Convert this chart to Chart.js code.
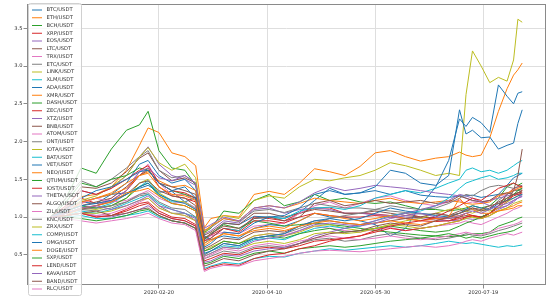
<!DOCTYPE html>
<html>
<head>
<meta charset="utf-8">
<script src="https://cdn.jsdelivr.net/npm/chart.js@4.4.0/dist/chart.umd.min.js"></script>
<style>
  html, body { margin: 0; padding: 0; background: #fff; }
  canvas { display: block; }
</style>
</head>
<body>
<canvas id="pairsChart" width="554" height="303"></canvas>
<script>
// days since 2020-01-01, prices normalised to the first close
const days = [0, 7, 14, 21, 28, 35, 41, 45, 50, 56, 62, 67, 71, 74, 80, 87, 94, 101, 108, 115, 122, 129, 136, 143, 150, 157, 164, 171, 178, 184, 189, 192, 195, 199, 203, 207, 211, 214, 216, 218];
const tickDays = [50, 100, 150, 200];
const tickLabels = ['2020-02-20', '2020-04-10', '2020-05-30', '2020-07-19'];
const yTicks = [0.5, 1.0, 1.5, 2.0, 2.5, 3.0, 3.5];

const pairs = ['BTC/USDT', 'ETH/USDT', 'BCH/USDT', 'XRP/USDT', 'EOS/USDT', 'LTC/USDT', 'TRX/USDT', 'ETC/USDT', 'LINK/USDT', 'XLM/USDT',
  'ADA/USDT', 'XMR/USDT', 'DASH/USDT', 'ZEC/USDT', 'XTZ/USDT', 'BNB/USDT', 'ATOM/USDT', 'ONT/USDT', 'IOTA/USDT', 'BAT/USDT',
  'VET/USDT', 'NEO/USDT', 'QTUM/USDT', 'IOST/USDT', 'THETA/USDT', 'ALGO/USDT', 'ZIL/USDT', 'KNC/USDT', 'ZRX/USDT', 'COMP/USDT',
  'OMG/USDT', 'DOGE/USDT', 'SXP/USDT', 'LEND/USDT', 'KAVA/USDT', 'BAND/USDT', 'RLC/USDT'];

const btc = [1.00, 1.12, 1.20, 1.18, 1.30, 1.32, 1.38, 1.42, 1.33, 1.34, 1.20, 1.26, 0.68, 0.76, 0.92, 0.90, 1.01, 1.00, 0.98, 1.06, 1.22, 1.38, 1.30, 1.32, 1.35, 1.30, 1.35, 1.29, 1.27, 1.26, 1.28, 1.28, 1.29, 1.26, 1.28, 1.30, 1.42, 1.52, 1.55, 1.58];
const eth = [1.00, 1.10, 1.27, 1.30, 1.40, 1.62, 1.95, 2.18, 2.12, 1.85, 1.80, 1.68, 0.86, 0.98, 1.02, 1.00, 1.30, 1.34, 1.30, 1.45, 1.64, 1.60, 1.55, 1.67, 1.85, 1.88, 1.80, 1.74, 1.78, 1.80, 1.86, 1.82, 1.80, 1.82, 2.05, 2.40, 2.70, 2.88, 2.95, 3.04];
const bch = [1.00, 1.25, 1.65, 1.58, 1.90, 2.15, 2.22, 2.40, 1.88, 1.65, 1.62, 1.42, 0.80, 0.85, 1.08, 1.05, 1.22, 1.30, 1.15, 1.20, 1.30, 1.22, 1.25, 1.20, 1.18, 1.20, 1.15, 1.10, 1.10, 1.08, 1.10, 1.12, 1.15, 1.12, 1.15, 1.25, 1.40, 1.45, 1.42, 1.45];
const xrp = [1.00, 1.12, 1.25, 1.18, 1.22, 1.35, 1.55, 1.65, 1.40, 1.28, 1.25, 1.20, 0.72, 0.76, 0.85, 0.82, 1.00, 0.98, 0.95, 1.05, 1.12, 1.12, 1.05, 1.05, 1.04, 1.02, 1.05, 1.00, 0.98, 0.95, 1.00, 1.05, 1.02, 1.00, 1.05, 1.15, 1.30, 1.38, 1.40, 1.40];
const eos = [1.00, 1.15, 1.35, 1.30, 1.38, 1.55, 1.80, 1.93, 1.70, 1.55, 1.50, 1.42, 0.78, 0.82, 0.95, 0.92, 1.10, 1.12, 1.05, 1.10, 1.12, 1.10, 1.05, 1.05, 1.03, 1.02, 1.00, 0.98, 0.96, 0.95, 0.96, 0.98, 0.97, 0.98, 1.02, 1.10, 1.15, 1.22, 1.25, 1.27];
const ltc = [1.00, 1.12, 1.40, 1.38, 1.45, 1.60, 1.78, 1.85, 1.62, 1.48, 1.52, 1.45, 0.76, 0.80, 0.92, 0.90, 1.05, 1.05, 1.00, 1.05, 1.10, 1.08, 1.05, 1.05, 1.08, 1.05, 1.02, 1.00, 0.99, 0.98, 1.00, 1.02, 1.01, 1.00, 1.05, 1.15, 1.30, 1.35, 1.36, 1.38];
const trx = [1.00, 1.05, 1.12, 1.15, 1.25, 1.40, 1.60, 1.70, 1.45, 1.30, 1.30, 1.22, 0.70, 0.75, 0.80, 0.78, 0.88, 0.90, 0.92, 1.05, 1.15, 1.20, 1.12, 1.18, 1.25, 1.28, 1.22, 1.18, 1.15, 1.20, 1.22, 1.18, 1.20, 1.18, 1.22, 1.28, 1.30, 1.35, 1.40, 1.42];
const etc = [1.00, 1.25, 1.48, 1.40, 1.50, 1.65, 1.80, 1.88, 1.62, 1.52, 1.55, 1.45, 0.82, 0.86, 0.98, 0.94, 1.08, 1.10, 1.06, 1.12, 1.18, 1.15, 1.12, 1.12, 1.10, 1.08, 1.06, 1.04, 1.04, 1.02, 1.05, 1.08, 1.10, 1.08, 1.10, 1.22, 1.30, 1.35, 1.35, 1.36];
const link = [1.00, 1.08, 1.22, 1.28, 1.40, 1.55, 1.80, 1.92, 1.72, 1.62, 1.70, 1.52, 0.78, 0.88, 1.02, 0.98, 1.22, 1.28, 1.25, 1.40, 1.50, 1.48, 1.52, 1.55, 1.62, 1.72, 1.68, 1.62, 1.55, 1.58, 1.55, 2.62, 3.20, 3.00, 2.78, 2.85, 2.80, 3.08, 3.62, 3.58];
const xlm = [1.00, 1.08, 1.15, 1.12, 1.18, 1.30, 1.40, 1.48, 1.30, 1.20, 1.20, 1.12, 0.65, 0.72, 0.85, 0.82, 0.98, 1.00, 0.98, 1.08, 1.12, 1.13, 1.10, 1.15, 1.25, 1.30, 1.35, 1.32, 1.38, 1.45, 1.50, 1.62, 1.65, 1.60, 1.62, 1.58, 1.62, 1.68, 1.72, 1.75];
const ada = [1.00, 1.05, 1.20, 1.25, 1.30, 1.45, 1.70, 1.75, 1.55, 1.45, 1.50, 1.35, 0.75, 0.70, 0.75, 0.72, 0.85, 0.90, 0.88, 0.95, 1.05, 1.00, 1.00, 0.95, 0.90, 0.75, 0.85, 1.15, 1.40, 1.75, 2.30, 2.20, 2.32, 2.25, 2.12, 2.75, 2.60, 2.50, 2.64, 2.66];
const xmr = [1.00, 1.05, 1.18, 1.25, 1.32, 1.45, 1.55, 1.60, 1.48, 1.40, 1.42, 1.35, 0.82, 0.88, 0.98, 0.95, 1.12, 1.15, 1.12, 1.18, 1.25, 1.22, 1.20, 1.18, 1.22, 1.25, 1.20, 1.18, 1.20, 1.22, 1.20, 1.18, 1.17, 1.18, 1.20, 1.28, 1.32, 1.35, 1.38, 1.40];
const dash = [1.00, 1.20, 1.45, 1.40, 1.50, 1.55, 1.65, 1.62, 1.45, 1.35, 1.30, 1.25, 0.70, 0.78, 0.90, 0.85, 0.95, 0.92, 0.88, 0.90, 0.92, 0.90, 0.88, 0.85, 0.82, 0.80, 0.78, 0.76, 0.75, 0.74, 0.75, 0.76, 0.78, 0.78, 0.80, 0.88, 0.92, 0.95, 0.98, 1.00];
const zec = [1.00, 1.15, 1.35, 1.30, 1.38, 1.50, 1.62, 1.68, 1.45, 1.35, 1.32, 1.25, 0.68, 0.72, 0.85, 0.80, 0.95, 0.95, 0.92, 1.00, 1.05, 1.02, 1.00, 1.00, 1.02, 1.00, 0.98, 0.95, 0.94, 0.95, 0.98, 1.00, 1.02, 1.00, 1.05, 1.12, 1.20, 1.30, 1.32, 1.35];
const xtz = [1.00, 1.05, 1.12, 1.15, 1.22, 1.35, 1.60, 1.65, 1.52, 1.48, 1.55, 1.45, 0.85, 0.90, 1.00, 0.95, 1.12, 1.15, 1.12, 1.20, 1.32, 1.40, 1.35, 1.38, 1.42, 1.40, 1.38, 1.35, 1.32, 1.30, 1.28, 1.25, 1.22, 1.20, 1.22, 1.25, 1.28, 1.30, 1.30, 1.30];
const bnb = [1.00, 1.08, 1.15, 1.20, 1.25, 1.40, 1.55, 1.62, 1.45, 1.40, 1.35, 1.30, 0.72, 0.78, 0.88, 0.85, 0.98, 1.00, 0.95, 1.00, 1.18, 1.22, 1.15, 1.18, 1.22, 1.18, 1.20, 1.22, 1.18, 1.20, 1.28, 1.25, 1.22, 1.20, 1.22, 1.30, 1.32, 1.30, 1.32, 1.33];
const atom = [1.00, 1.10, 1.18, 1.25, 1.20, 1.22, 1.30, 1.35, 1.25, 1.18, 1.20, 1.12, 0.55, 0.58, 0.68, 0.65, 0.75, 0.78, 0.76, 0.82, 0.88, 0.85, 0.82, 0.80, 0.84, 0.86, 0.82, 0.85, 0.88, 0.90, 0.92, 0.95, 0.92, 0.90, 0.95, 1.00, 1.05, 1.10, 1.12, 1.15];
const ont = [1.00, 1.05, 1.10, 1.08, 1.12, 1.20, 1.28, 1.30, 1.15, 1.05, 1.05, 0.95, 0.45, 0.48, 0.55, 0.52, 0.60, 0.62, 0.60, 0.65, 0.70, 0.72, 0.68, 0.70, 0.75, 0.78, 0.75, 0.72, 0.70, 0.72, 0.75, 0.78, 0.76, 0.75, 0.78, 0.82, 0.85, 0.88, 0.90, 0.92];
const iota = [1.00, 1.05, 1.12, 1.10, 1.15, 1.25, 1.45, 1.50, 1.32, 1.22, 1.20, 1.10, 0.55, 0.60, 0.68, 0.65, 0.75, 0.78, 0.75, 0.80, 0.88, 0.90, 0.85, 0.82, 0.85, 0.90, 0.95, 0.98, 1.05, 1.10, 1.12, 1.08, 1.05, 1.10, 1.08, 1.12, 1.20, 1.25, 1.28, 1.30];
const bat = [1.00, 1.02, 1.08, 1.05, 1.10, 1.18, 1.25, 1.30, 1.18, 1.10, 1.05, 1.00, 0.50, 0.55, 0.62, 0.60, 0.70, 0.72, 0.70, 0.78, 0.85, 0.88, 0.85, 0.88, 0.95, 1.02, 1.05, 1.08, 1.15, 1.25, 1.38, 1.45, 1.48, 1.52, 1.55, 1.50, 1.52, 1.55, 1.58, 1.58];
const vet = [1.00, 1.10, 1.25, 1.35, 1.40, 1.50, 1.60, 1.62, 1.45, 1.35, 1.40, 1.25, 0.60, 0.65, 0.80, 0.78, 0.92, 1.00, 1.02, 1.12, 1.30, 1.35, 1.30, 1.32, 1.40, 1.62, 1.58, 1.45, 1.42, 1.55, 2.42, 2.10, 2.15, 2.05, 2.06, 1.90, 1.95, 1.98, 2.24, 2.42];
const neo = [1.00, 1.05, 1.20, 1.25, 1.30, 1.38, 1.55, 1.58, 1.40, 1.30, 1.28, 1.22, 0.62, 0.68, 0.78, 0.75, 0.85, 0.88, 0.85, 0.95, 1.05, 1.02, 0.98, 0.95, 0.98, 1.02, 0.98, 0.95, 0.98, 1.00, 1.02, 1.05, 1.00, 0.98, 1.02, 1.08, 1.12, 1.15, 1.18, 1.20];
const qtum = [1.00, 1.08, 1.15, 1.12, 1.15, 1.25, 1.40, 1.45, 1.28, 1.18, 1.15, 1.08, 0.55, 0.58, 0.68, 0.65, 0.72, 0.75, 0.72, 0.78, 0.82, 0.85, 0.80, 0.82, 0.85, 0.88, 0.85, 0.82, 0.80, 0.82, 0.88, 0.92, 0.95, 1.00, 1.05, 1.15, 1.25, 1.30, 1.35, 1.38];
const iost = [1.00, 1.02, 1.05, 1.00, 1.02, 1.10, 1.18, 1.20, 1.08, 1.00, 0.98, 0.90, 0.42, 0.45, 0.52, 0.50, 0.58, 0.60, 0.58, 0.62, 0.68, 0.70, 0.72, 0.75, 0.80, 0.85, 0.82, 0.85, 0.88, 0.92, 0.95, 1.00, 1.02, 0.98, 1.05, 1.15, 1.22, 1.28, 1.30, 1.32];
const theta = [1.00, 1.02, 1.05, 1.02, 1.00, 1.05, 1.10, 1.15, 1.05, 0.98, 0.95, 0.88, 0.40, 0.42, 0.50, 0.48, 0.55, 0.58, 0.60, 0.65, 0.75, 0.80, 0.85, 0.90, 0.95, 1.00, 1.05, 1.10, 1.15, 1.22, 1.30, 1.28, 1.25, 1.20, 1.15, 1.12, 1.15, 1.20, 1.25, 1.30];
const algo = [1.00, 1.05, 1.10, 1.15, 1.20, 1.30, 1.45, 1.48, 1.35, 1.28, 1.25, 1.15, 0.58, 0.62, 0.72, 0.70, 0.80, 0.82, 0.80, 0.88, 0.95, 0.95, 0.92, 0.90, 0.92, 0.95, 0.98, 1.00, 1.05, 1.02, 1.08, 1.10, 1.12, 1.08, 1.12, 1.20, 1.25, 1.30, 1.32, 1.35];
const zil = [1.00, 1.02, 1.05, 1.02, 1.05, 1.12, 1.20, 1.25, 1.12, 1.05, 1.02, 0.95, 0.45, 0.50, 0.58, 0.55, 0.62, 0.65, 0.62, 0.68, 0.72, 0.75, 0.72, 0.70, 0.72, 0.75, 0.72, 0.70, 0.72, 0.75, 0.78, 0.80, 0.78, 0.76, 0.80, 0.85, 0.88, 0.90, 0.92, 0.95];
const knc = [1.00, 1.05, 1.10, 1.12, 1.15, 1.20, 1.30, 1.32, 1.20, 1.12, 1.10, 1.00, 0.50, 0.55, 0.65, 0.62, 0.72, 0.75, 0.78, 0.85, 0.92, 0.98, 1.02, 1.05, 1.10, 1.15, 1.12, 1.10, 1.12, 1.18, 1.25, 1.30, 1.28, 1.35, 1.40, 1.42, 1.40, 1.38, 1.40, 1.42];
const zrx = [1.00, 1.02, 1.05, 1.05, 1.08, 1.15, 1.22, 1.25, 1.12, 1.05, 1.02, 0.95, 0.48, 0.52, 0.60, 0.58, 0.65, 0.68, 0.65, 0.70, 0.78, 0.80, 0.78, 0.80, 0.85, 0.90, 0.88, 0.85, 0.88, 0.92, 0.95, 0.98, 1.00, 0.98, 1.02, 1.08, 1.12, 1.18, 1.20, 1.22];
const comp = [1.00, 1.00, 1.02, 0.98, 0.98, 1.02, 1.05, 1.08, 1.00, 0.95, 0.92, 0.85, 0.32, 0.35, 0.40, 0.38, 0.45, 0.48, 0.47, 0.52, 0.55, 0.58, 0.56, 0.58, 0.60, 0.62, 0.60, 0.62, 0.65, 0.68, 0.66, 0.65, 0.66, 0.64, 0.62, 0.60, 0.62, 0.61, 0.62, 0.63];
const omg = [1.00, 1.08, 1.15, 1.18, 1.22, 1.30, 1.40, 1.45, 1.30, 1.22, 1.18, 1.10, 0.52, 0.55, 0.65, 0.62, 0.72, 0.75, 0.78, 0.88, 0.95, 0.98, 0.95, 0.98, 1.05, 1.12, 1.08, 1.05, 1.02, 1.00, 1.05, 1.10, 1.15, 1.12, 1.10, 1.18, 1.22, 1.25, 1.28, 1.30];
const doge = [1.00, 1.02, 1.12, 1.15, 1.20, 1.32, 1.35, 1.38, 1.28, 1.18, 1.15, 1.08, 0.65, 0.70, 0.78, 0.75, 0.82, 0.85, 0.82, 0.88, 0.92, 0.95, 0.92, 0.90, 0.92, 0.95, 0.92, 0.90, 0.95, 1.00, 1.25, 1.15, 1.10, 1.05, 1.05, 1.08, 1.10, 1.12, 1.15, 1.15];
const sxp = [1.00, 1.00, 0.98, 0.95, 0.98, 1.02, 1.08, 1.10, 1.02, 0.95, 0.92, 0.85, 0.38, 0.40, 0.48, 0.45, 0.52, 0.55, 0.52, 0.58, 0.60, 0.62, 0.60, 0.62, 0.65, 0.68, 0.70, 0.72, 0.75, 0.78, 0.75, 0.72, 0.74, 0.72, 0.75, 0.78, 0.80, 0.82, 0.85, 0.88];
const lend = [1.00, 1.02, 1.05, 1.00, 1.02, 1.08, 1.15, 1.18, 1.05, 0.98, 0.95, 0.88, 0.30, 0.34, 0.38, 0.36, 0.45, 0.50, 0.52, 0.58, 0.62, 0.68, 0.72, 0.75, 0.82, 0.88, 0.92, 0.95, 1.00, 1.08, 1.15, 1.20, 1.25, 1.22, 1.30, 1.38, 1.42, 1.45, 1.42, 1.40];
const kava = [1.00, 1.05, 1.12, 1.15, 1.10, 1.15, 1.22, 1.28, 1.15, 1.10, 1.05, 0.98, 0.48, 0.52, 0.60, 0.58, 0.68, 0.72, 0.75, 0.82, 0.90, 0.92, 0.90, 0.88, 0.92, 0.98, 1.02, 1.05, 1.00, 0.98, 1.02, 1.05, 1.08, 1.05, 1.10, 1.15, 1.18, 1.22, 1.25, 1.28];
const band = [1.00, 1.02, 1.05, 1.08, 1.02, 1.05, 1.10, 1.12, 1.02, 0.95, 0.92, 0.85, 0.35, 0.38, 0.45, 0.42, 0.50, 0.55, 0.58, 0.65, 0.72, 0.78, 0.80, 0.82, 0.88, 0.92, 0.90, 0.88, 0.95, 1.00, 1.05, 1.08, 1.12, 1.10, 1.15, 1.18, 1.22, 1.35, 1.55, 1.90];
const rlc = [1.00, 0.98, 0.95, 0.92, 0.95, 0.98, 1.02, 1.05, 0.98, 0.92, 0.90, 0.82, 0.28, 0.32, 0.36, 0.35, 0.42, 0.45, 0.48, 0.52, 0.55, 0.56, 0.55, 0.54, 0.56, 0.58, 0.60, 0.62, 0.60, 0.62, 0.65, 0.68, 0.70, 0.68, 0.72, 0.75, 0.78, 0.76, 0.78, 0.80];

const series = [btc, eth, bch, xrp, eos, ltc, trx, etc, link, xlm, ada, xmr, dash, zec, xtz, bnb, atom, ont, iota, bat,
  vet, neo, qtum, iost, theta, algo, zil, knc, zrx, comp, omg, doge, sxp, lend, kava, band, rlc];

const palette = ['#1f77b4', '#ff7f0e', '#2ca02c', '#d62728', '#9467bd', '#8c564b', '#e377c2', '#7f7f7f', '#bcbd22', '#17becf'];
const tickFont = { family: 'DejaVu Sans', size: 5.2 };

const datasets = pairs.map((name, i) => ({
    label: name,
    data: days.map((d, k) => ({ x: d, y: series[i][k] })),
    borderColor: palette[i % 10],
    borderWidth: 1,
    pointRadius: 0,
    tension: 0,
    order: pairs.length - i
}));

// matplotlib-like box around the plot
const frame = {
    id: 'frame',
    afterDatasetsDraw(chart) {
        const { ctx, chartArea: a } = chart;
        ctx.save();
        ctx.strokeStyle = '#8a8a8a';
        ctx.lineWidth = 1;
        ctx.strokeRect(Math.round(a.left) + 0.5, Math.round(a.top) + 0.5,
            Math.round(a.right - a.left) - 1, Math.round(a.bottom - a.top) - 1);
        ctx.restore();
    }
};

// legend drawn inside the axes, upper left
const boxLegend = {
    id: 'boxLegend',
    afterDraw(chart) {
        const ctx = chart.ctx;
        ctx.save();
        ctx.beginPath();
        ctx.roundRect(28.5, 3.5, 53, 292, 2);
        ctx.fillStyle = 'rgba(255,255,255,0.8)';
        ctx.fill();
        ctx.strokeStyle = '#d0d0d0';
        ctx.lineWidth = 1;
        ctx.stroke();
        ctx.font = '5.2px "DejaVu Sans"';
        ctx.textBaseline = 'middle';
        chart.data.datasets.forEach((ds, i) => {
            const y = 10 + i * 7.75;
            ctx.strokeStyle = ds.borderColor;
            ctx.beginPath();
            ctx.moveTo(32, y);
            ctx.lineTo(42, y);
            ctx.stroke();
            ctx.fillStyle = '#333';
            ctx.fillText(ds.label, 46.5, y);
        });
        ctx.restore();
    }
};

const ctx = document.getElementById('pairsChart').getContext('2d');

new Chart(ctx, {
    type: 'line',
    data: { datasets: datasets },
    options: {
        responsive: false,
        animation: false,
        devicePixelRatio: 1,
        layout: { padding: { top: 4, right: 8, left: 0, bottom: 0 } },
        plugins: {
            legend: { display: false },
            tooltip: { enabled: false }
        },
        scales: {
            x: {
                type: 'linear',
                min: -11,
                max: 229,
                afterBuildTicks: s => { s.ticks = tickDays.map(v => ({ value: v })); },
                afterFit: s => { s.height = 18; },
                ticks: {
                    callback: v => tickLabels[tickDays.indexOf(v)],
                    font: tickFont,
                    color: '#333',
                    padding: 1,
                    maxRotation: 0,
                    autoSkip: false
                },
                grid: { color: '#dedede', tickColor: '#8a8a8a', tickLength: 3.5 },
                border: { display: false }
            },
            y: {
                min: 0.10,
                max: 3.82,
                afterBuildTicks: s => { s.ticks = yTicks.map(v => ({ value: v })); },
                afterFit: s => { s.width = 27; },
                ticks: {
                    callback: v => v.toFixed(1),
                    font: tickFont,
                    color: '#333',
                    padding: 1,
                    autoSkip: false
                },
                grid: { color: '#dedede', tickColor: '#8a8a8a', tickLength: 3.5 },
                border: { display: false }
            }
        }
    },
    plugins: [frame, boxLegend]
});
</script>
</body>
</html>
